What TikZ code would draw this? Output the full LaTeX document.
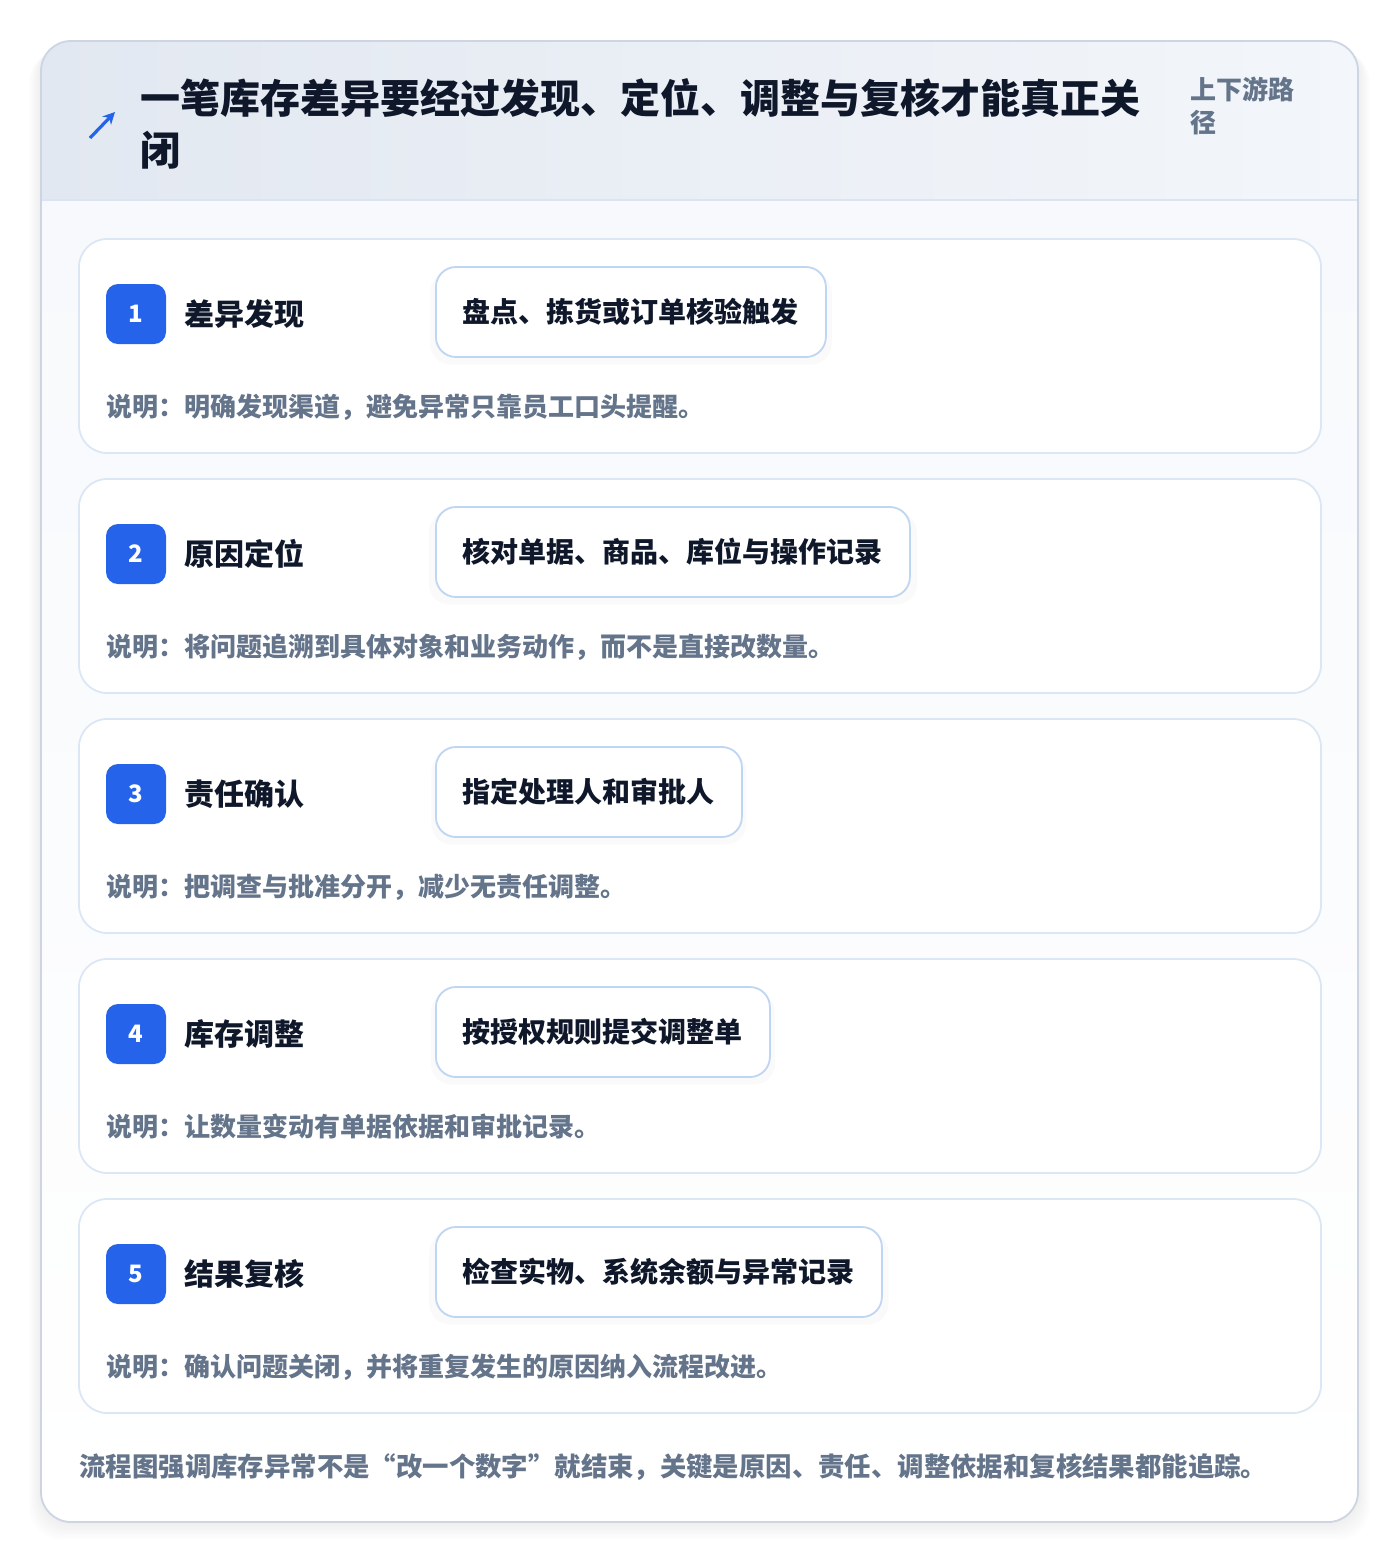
\documentclass[tikz,border=0pt]{standalone}
\usepackage{fontspec}
\usepackage{xcolor}
\setmainfont{Noto Sans CJK SC}
\usetikzlibrary{arrows.meta}
\usetikzlibrary{shadows}
\usetikzlibrary{positioning}

\definecolor{inkdark}{HTML}{0F172A}
\definecolor{inkgray}{HTML}{64748B}
\definecolor{badgeblue}{HTML}{2563EB}
\definecolor{stepline}{HTML}{DCE7F5}
\definecolor{actline}{HTML}{BFD6F2}
\definecolor{headleft}{HTML}{E2E8F1}
\definecolor{headright}{HTML}{F3F6FA}
\definecolor{headrule}{HTML}{DBE4F0}
\definecolor{bodyfill}{HTML}{F7F9FC}
\definecolor{cardrim}{HTML}{CDD5E2}

\tikzset{
  stepcard/.style={draw=stepline, line width=0.9pt, fill=white, rounded corners=14pt,
    minimum width=621pt, minimum height=107pt, inner sep=0pt},
  badge/.style={fill=badgeblue, rounded corners=6pt, minimum size=30pt, inner sep=0pt,
    text=white, font=\fontsize{12}{12}\selectfont\bfseries},
  steptitle/.style={anchor=west, inner sep=0pt, text=inkdark, font=\fontsize{15}{15}\selectfont\bfseries},
  actbox/.style={anchor=west, draw=actline, line width=0.9pt, fill=white, rounded corners=10pt,
    minimum height=45pt, inner xsep=13.5pt, text=inkdark, font=\fontsize{14}{14}\selectfont\bfseries,
    drop shadow={opacity=0.035, shadow xshift=0pt, shadow yshift=-3pt, shadow scale=1.03}},
  stepnote/.style={anchor=west, inner sep=0pt, text=inkgray, font=\fontsize{13}{13}\selectfont\bfseries},
}

\begin{document}
\begin{tikzpicture}[x=0.5pt, y=-0.5pt]
  \useasboundingbox (0,0) rectangle (1400,1564);
  \fill[white] (0,0) rectangle (1400,1564);

  % soft shadow under the card
  \foreach \s in {1,...,8} {
    \fill[black, opacity=0.008, rounded corners=16pt] (41-1.5*\s,41+1.2*\s) rectangle (1358+1.5*\s,1522+2.2*\s);
  }

  % card, header and body
  \begin{scope}
    \clip[rounded corners=15pt] (41,41) rectangle (1358,1522);
    \shade[left color=headleft, right color=headright] (41,41) rectangle (1358,200);
    \shade[top color=bodyfill, bottom color=white] (41,1522) rectangle (1358,200);
    \draw[headrule, line width=1pt] (41,200) -- (1358,200);
  \end{scope}
  \draw[cardrim, line width=0.9pt, rounded corners=15pt] (41,41) rectangle (1358,1522);

  % header
  \draw[badgeblue, line width=1.6pt, -{Stealth[length=6pt, width=6pt]}] (90,138) -- (115,112);
  \node[anchor=west, inner sep=0pt, align=left, text=inkdark, font=\fontsize{20}{26}\selectfont\bfseries]
    (title) at (140,124) {一笔库存差异要经过发现、定位、调整与复核才能真正关\\闭};
  \node[anchor=west, inner sep=0pt, align=left, text=inkgray, font=\fontsize{13}{16.5}\selectfont\bfseries]
    (path) at (1190,106) {上下游路\\径};

  % steps
  \foreach \n/\ttl/\act/\note in {
      1/差异发现/盘点、拣货或订单核验触发/说明：明确发现渠道，避免异常只靠员工口头提醒。,
      2/原因定位/核对单据、商品、库位与操作记录/说明：将问题追溯到具体对象和业务动作，而不是直接改数量。,
      3/责任确认/指定处理人和审批人/说明：把调查与批准分开，减少无责任调整。,
      4/库存调整/按授权规则提交调整单/说明：让数量变动有单据依据和审批记录。,
      5/结果复核/检查实物、系统余额与异常记录/说明：确认问题关闭，并将重复发生的原因纳入流程改进。} {
    \pgfmathsetmacro{\top}{239+240*(\n-1)}
    \node[stepcard] (card\n) at (700,\top+107) {};
    \node[badge] (badge\n) at (136,\top+75) {\n};
    \node[steptitle] (ttl\n) at (184,\top+75) {\ttl};
    \node[actbox] (act\n) at (435,\top+73) {\act};
    \node[stepnote] (note\n) at (106,\top+168) {\note};
  }

  % footer
  \node[anchor=west, inner sep=0pt, text=inkgray, font=\fontsize{13.2}{13.2}\selectfont\bfseries]
    (footer) at (79,1467) {流程图强调库存异常不是“改一个数字”就结束，关键是原因、责任、调整依据和复核结果都能追踪。};
\end{tikzpicture}
\end{document}
